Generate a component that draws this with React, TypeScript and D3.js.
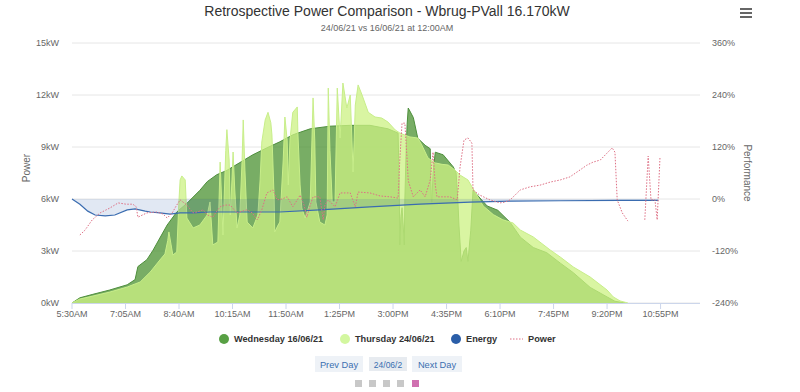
import * as d3 from 'd3'

const xTickLabels = ['5:30AM', '7:05AM', '8:40AM', '10:15AM', '11:50AM', '1:25PM', '3:00PM', '4:35PM', '6:10PM', '7:45PM', '9:20PM', '10:55PM']
const kwTicks = [0, 3, 6, 9, 12, 15]
const pctTicks = [-240, -120, 0, 120, 240, 360]

// [minutes since midnight, kW]
const wednesday: [number, number][] = [
  [330, 0], [344, 0.3], [367, 0.5], [397, 0.75], [428, 1.05], [442, 1.35], [447, 2.1], [463, 2.5],
  [474, 3.05], [486, 3.75], [499, 4.5], [516, 5.25], [534, 5.75], [557, 6.5], [570, 7.0], [587, 7.4],
  [605, 7.65], [628, 8.1], [651, 8.55], [676, 8.95], [699, 9.3], [722, 9.7], [735, 9.85], [753, 10.05],
  [788, 10.2], [824, 10.25], [859, 10.25], [891, 10.05], [909, 9.8], [911, 6.8], [912, 3.35], [914, 5.0],
  [916, 5.5], [918, 4.5], [920, 3.35], [921, 6.0], [923, 8.5], [925, 10.3], [927, 11.25], [936, 10.7],
  [944, 9.5], [957, 9.1], [966, 8.9], [968, 6.0], [969, 5.8], [971, 7.5], [975, 8.7], [989, 8.55],
  [1007, 7.85], [1012, 7.5], [1015, 6.0], [1017, 4.5], [1021, 2.4], [1026, 3.0], [1030, 3.2], [1033, 2.4],
  [1038, 4.2], [1042, 6.5], [1067, 5.6], [1086, 5.35], [1108, 4.65], [1126, 3.8], [1149, 3.2], [1173, 2.9],
  [1197, 2.3], [1220, 1.75], [1250, 0.9], [1280, 0.35], [1294, 0.1], [1312, 0],
]

const thursday: [number, number][] = [
  [330, 0], [344, 0.23], [367, 0.4], [397, 0.63], [428, 0.92], [442, 1.1], [451, 1.21], [469, 1.79],
  [486, 2.48], [495, 2.83], [500, 3.6], [502, 4.1], [506, 3.35], [509, 2.77], [516, 2.94], [520, 5.94],
  [522, 7.1], [525, 7.33], [531, 7.1], [534, 4.9], [545, 4.33], [557, 4.5], [570, 5.08], [575, 5.83],
  [580, 3.35], [589, 3.52], [593, 8.13], [596, 5.65], [598, 3.92], [603, 8.8], [605, 10.0], [609, 8.25],
  [611, 5.08], [614, 7.1], [616, 8.71], [619, 6.52], [623, 4.33], [628, 5.08], [632, 8.25], [634, 10.56],
  [637, 7.67], [641, 4.67], [651, 4.33], [660, 5.08], [664, 7.1], [667, 9.29], [673, 10.56], [678, 11.0],
  [683, 10.4], [685, 9.69], [689, 5.94], [690, 4.1], [696, 4.5], [699, 4.67], [705, 8.25], [708, 10.73],
  [712, 9.4], [714, 6.81], [717, 9.4], [722, 11.0], [730, 11.31], [731, 9.87], [735, 6.81], [738, 5.48],
  [744, 4.9], [753, 5.83], [756, 9.4], [758, 11.83], [761, 9.4], [763, 5.83], [770, 4.67], [779, 4.5],
  [783, 5.08], [785, 12.4], [788, 8.8], [792, 5.83], [797, 5.83], [801, 12.4], [806, 9.52], [811, 12.69],
  [818, 11.25], [824, 12.0], [827, 9.4], [829, 7.56], [831, 9.4], [833, 11.42], [838, 12.58], [845, 12.0],
  [856, 11.0], [868, 10.73], [880, 10.67], [891, 10.44], [904, 9.98], [912, 9.81], [921, 9.69], [930, 9.58],
  [944, 9.52], [951, 9.12], [957, 8.71], [962, 8.37], [975, 8.08], [987, 8.0], [998, 7.96], [1010, 7.67],
  [1019, 7.38], [1033, 7.1], [1042, 6.6], [1060, 5.6], [1078, 5.1], [1095, 4.8], [1113, 4.62], [1126, 4.21],
  [1149, 3.81], [1179, 3.06], [1197, 2.65], [1220, 2.08], [1250, 1.5], [1280, 0.75], [1291, 0.35], [1303, 0.12],
  [1317, 0],
]

// [minutes since midnight, %]
const energy: [number, number][] = [
  [330, 0], [344, -12], [358, -28], [371, -37], [389, -39], [406, -37], [428, -25], [442, -23],
  [460, -28], [469, -30], [486, -32], [504, -35], [522, -32], [545, -32], [575, -30], [646, -30],
  [699, -30], [770, -25], [859, -18], [948, -12], [1037, -7], [1108, -5], [1197, -4], [1303, -3], [1371, -3],
]

const power: [number, number | null][] = [
  [344, -83], [353, -72], [366, -48], [380, -32], [397, -21], [412, -9], [426, -12], [438, -12],
  [444, -18], [447, -42], [463, -32], [481, -30], [492, -35], [499, -44], [508, -32], [515, -16],
  [522, -2], [529, -9], [534, -14], [545, -32], [552, -30], [563, -25], [571, -37], [580, -42],
  [586, -30], [593, -18], [602, -14], [611, -14], [618, -25], [623, -32], [632, -28], [641, -25],
  [650, -32], [659, -48], [667, -25], [676, 14], [687, 21], [694, -2], [703, 0], [712, 5],
  [722, -18], [730, -2], [735, 9], [742, -14], [747, -42], [753, -14], [758, 5], [770, 5],
  [776, -48], [779, -14], [785, -2], [797, -18], [806, 14], [824, 14], [833, -18], [838, 16],
  [859, 14], [877, 7], [895, 5], [909, 2], [912, 90], [916, 175], [921, 175], [925, 90],
  [927, 42], [936, 5], [948, 21], [957, 5], [966, 44], [971, 108], [975, 32], [978, 5],
  [1001, 5], [1014, -2], [1019, 74], [1026, 136], [1033, 141], [1040, 129], [1042, 21], [1054, 9],
  [1072, -2], [1090, -9], [1099, -7], [1108, -2], [1126, 21], [1143, 28], [1161, 32], [1179, 39],
  [1197, 44], [1214, 51], [1232, 67], [1244, 78], [1255, 85], [1268, 90], [1280, 106], [1289, 118],
  [1294, 108], [1298, -2], [1307, -32], [1317, -51], [1330, null], [1347, -48], [1353, 99], [1358, -2],
  [1365, -2], [1369, -48], [1374, 97],
]

const legendItems = [
  { name: 'Wednesday 16/06/21', color: '#58a044', kind: 'dot', x: 224 },
  { name: 'Thursday 24/06/21', color: '#d3f7a0', kind: 'dot', x: 345 },
  { name: 'Energy', color: '#2b5ea8', kind: 'dot', x: 456 },
  { name: 'Power', color: '#de6f84', kind: 'dash', x: 510 },
]

const font = '"Liberation Sans", Arial, Helvetica, sans-serif'

export default function App() {
  const left = 72
  const right = 700
  const top = 43
  const bottom = 303

  const x = d3.scaleLinear().domain([330, 1445]).range([left, right])
  const yKw = d3.scaleLinear().domain([0, 15]).range([bottom, top])
  const yPct = d3.scaleLinear().domain([-240, 360]).range([bottom, top])

  const kwArea = d3.area<[number, number]>()
    .x(d => x(d[0]))
    .y0(yKw(0))
    .y1(d => yKw(d[1]))
  const kwLine = d3.line<[number, number]>()
    .x(d => x(d[0]))
    .y(d => yKw(d[1]))
  const energyArea = d3.area<[number, number]>()
    .x(d => x(d[0]))
    .y0(yPct(0))
    .y1(d => yPct(d[1]))
  const energyLine = d3.line<[number, number]>()
    .x(d => x(d[0]))
    .y(d => yPct(d[1]))
  const powerLine = d3.line<[number, number | null]>()
    .defined(d => d[1] != null)
    .x(d => x(d[0]))
    .y(d => yPct(d[1] as number))

  const xTicks = xTickLabels.map((label, i) => ({ label, v: 330 + i * 95 }))

  return (
    <svg width={800} height={392} style={{ position: 'fixed', left: 0, top: 0, background: '#fff' }} fontFamily={font}>
      <text x={387} y={16} textAnchor="middle" fontSize={14} fill="#333">
        Retrospective Power Comparison - Wbrug-PVall 16.170kW
      </text>
      <text x={387} y={31} textAnchor="middle" fontSize={9} fill="#666">
        24/06/21 vs 16/06/21 at 12:00AM
      </text>

      <g stroke="#666" strokeWidth={2}>
        {[9, 13, 17].map(yy => <line key={yy} x1={740} x2={752} y1={yy} y2={yy} />)}
      </g>

      <g>
        {kwTicks.map(t => (
          <line key={t} x1={left} x2={right} y1={yKw(t)} y2={yKw(t)} stroke="#e6e6e6" />
        ))}
      </g>

      <path d={kwArea(wednesday) ?? ''} fill="#4b9232" fillOpacity={0.75} />
      <path d={kwLine(wednesday) ?? ''} fill="none" stroke="#4e8f3c" strokeWidth={1} />
      <path d={kwArea(thursday) ?? ''} fill="#ccf283" fillOpacity={0.75} />
      <path d={kwLine(thursday) ?? ''} fill="none" stroke="#c8ee8a" strokeWidth={1} />

      <path d={energyArea(energy) ?? ''} fill="#2b5ea8" fillOpacity={0.14} />
      <path d={energyLine(energy) ?? ''} fill="none" stroke="#3a6cb0" strokeWidth={1.2} />
      <path d={powerLine(power) ?? ''} fill="none" stroke="#de6f84" strokeWidth={1} strokeDasharray="1.5,1.5" />

      <line x1={left} x2={right} y1={bottom + 0.5} y2={bottom + 0.5} stroke="#ccd6eb" />
      {xTicks.map(t => (
        <g key={t.label}>
          <line x1={x(t.v)} x2={x(t.v)} y1={bottom} y2={bottom + 6} stroke="#ccd6eb" />
          <text x={x(t.v)} y={317} textAnchor="middle" fontSize={9} fill="#666">{t.label}</text>
        </g>
      ))}

      {kwTicks.map(t => (
        <text key={t} x={59} y={yKw(t) + 3} textAnchor="end" fontSize={9} fill="#666">{t}kW</text>
      ))}
      {pctTicks.map(t => (
        <text key={t} x={712} y={yPct(t) + 3} fontSize={9} fill="#666">{t}%</text>
      ))}
      <text transform="translate(30,168) rotate(-90)" textAnchor="middle" fontSize={10} fill="#666">Power</text>
      <text transform="translate(744,173) rotate(90)" textAnchor="middle" fontSize={10} fill="#666">Performance</text>

      {legendItems.map(it => (
        <g key={it.name}>
          {it.kind === 'dot'
            ? <circle cx={it.x} cy={339} r={5} fill={it.color} />
            : <line x1={it.x} x2={it.x + 13} y1={339} y2={339} stroke={it.color} strokeDasharray="1.5,1.5" />}
          <text x={it.kind === 'dot' ? it.x + 10 : it.x + 18} y={342} fontSize={9.2} fontWeight="bold" fill="#333">{it.name}</text>
        </g>
      ))}

      <g fontSize={9.3} fill="#3a6fb0">
        <rect x={315} y={356} width={48} height={16} fill="#eef2f7" />
        <text x={339} y={367.5} textAnchor="middle">Prev Day</text>
        <rect x={369} y={357} width={38} height={14} fill="#e7ebf0" />
        <text x={388} y={367.5} textAnchor="middle" fontSize={8.5}>24/06/2</text>
        <rect x={412} y={356} width={50} height={16} fill="#eef2f7" />
        <text x={437} y={367.5} textAnchor="middle">Next Day</text>
      </g>
      <g>
        {[355, 369, 383, 397].map(sx => <rect key={sx} x={sx} y={380} width={7} height={7} fill="#c8c8c8" />)}
        <rect x={412} y={380} width={7} height={7} fill="#d070b0" />
      </g>
    </svg>
  )
}
